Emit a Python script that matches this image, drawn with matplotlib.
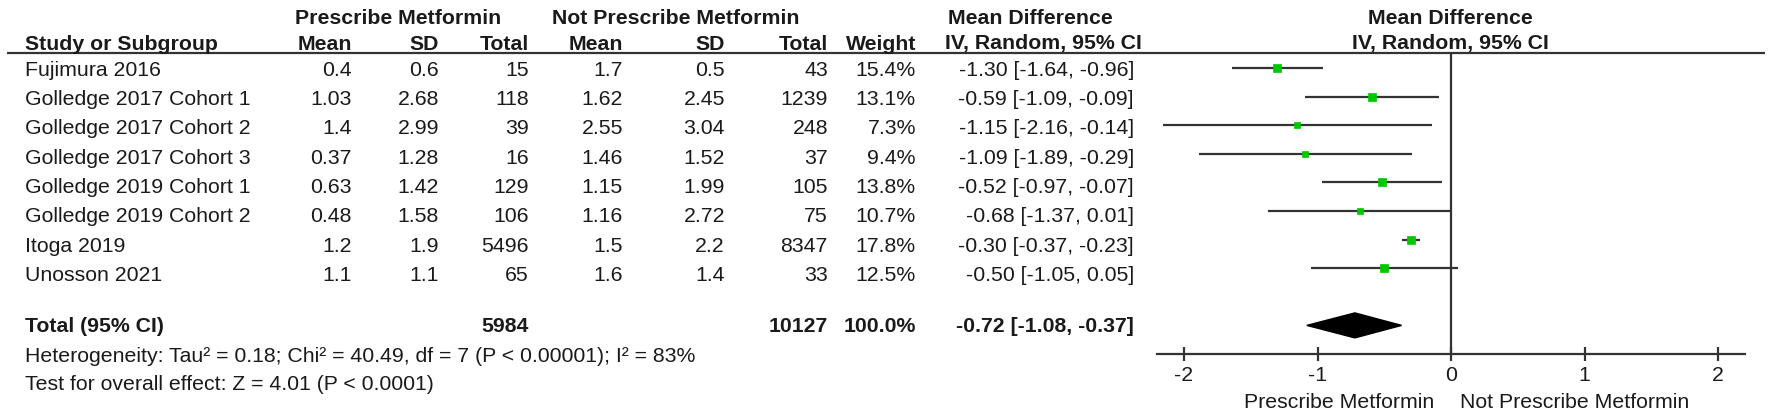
import matplotlib
matplotlib.use("Agg")
import matplotlib.pyplot as plt
from matplotlib.patches import Polygon
import numpy as np

plt.rcParams['font.family'] = ['Liberation Sans', 'DejaVu Sans']

# data
studies = ["Fujimura 2016", "Golledge 2017 Cohort 1", "Golledge 2017 Cohort 2",
           "Golledge 2017 Cohort 3", "Golledge 2019 Cohort 1", "Golledge 2019 Cohort 2",
           "Itoga 2019", "Unosson 2021"]
pm_mean = ["0.4", "1.03", "1.4", "0.37", "0.63", "0.48", "1.2", "1.1"]
pm_sd = ["0.6", "2.68", "2.99", "1.28", "1.42", "1.58", "1.9", "1.1"]
pm_total = [15, 118, 39, 16, 129, 106, 5496, 65]
np_mean = ["1.7", "1.62", "2.55", "1.46", "1.15", "1.16", "1.5", "1.6"]
np_sd = ["0.5", "2.45", "3.04", "1.52", "1.99", "2.72", "2.2", "1.4"]
np_total = [43, 1239, 248, 37, 105, 75, 8347, 33]
weight = [15.4, 13.1, 7.3, 9.4, 13.8, 10.7, 17.8, 12.5]
md = [-1.30, -0.59, -1.15, -1.09, -0.52, -0.68, -0.30, -0.50]
ci_lo = [-1.64, -1.09, -2.16, -1.89, -0.97, -1.37, -0.37, -1.05]
ci_hi = [-0.96, -0.09, -0.14, -0.29, -0.07, 0.01, -0.23, 0.05]
total_md, total_lo, total_hi = -0.72, -1.08, -0.37
total_pm, total_np = 5984, 10127
het_text = "Heterogeneity: Tau\u00b2 = 0.18; Chi\u00b2 = 40.49, df = 7 (P < 0.00001); I\u00b2 = 83%"
effect_text = "Test for overall effect: Z = 4.01 (P < 0.0001)"
xticks = [-2, -1, 0, 1, 2]

W, H = 1772, 418
FS = 15.3
TXT = "#1a1a1a"
LINE = "#333333"

fig = plt.figure(figsize=(W / 100, H / 100), dpi=100)

# table part, pixel coordinates
ax = fig.add_axes([0, 0, 1, 1])
ax.set_xlim(0, W)
ax.set_ylim(H, 0)
ax.axis('off')

def t(x, y, s, ha='right', bold=False, **kw):
    ax.text(x, y, s, ha=ha, va='center', fontsize=FS, color=TXT,
            fontweight='bold' if bold else 'normal', **kw)

# column right edges
c_pm_mean, c_pm_sd, c_pm_tot = 352, 439, 529
c_np_mean, c_np_sd, c_np_tot = 623, 725, 828
c_w, c_ci = 916, 1134
y_h1, y_h2 = 18, 44
row0, step = 70, 29.4

t(398, y_h1, "Prescribe Metformin", ha='center', bold=True)
t(676, y_h1, "Not Prescribe Metformin", ha='center', bold=True)
t(1030, y_h1, "Mean Difference", ha='center', bold=True)
t(1450, y_h1, "Mean Difference", ha='center', bold=True)

t(25, y_h2, "Study or Subgroup", ha='left', bold=True)
for x, s in [(c_pm_mean, "Mean"), (c_pm_sd, "SD"), (c_pm_tot, "Total"),
             (c_np_mean, "Mean"), (c_np_sd, "SD"), (c_np_tot, "Total"), (c_w, "Weight")]:
    t(x, y_h2, s, bold=True)
t(945, y_h2, "IV, Random, 95% CI", ha='left', bold=True)
t(1450, y_h2, "IV, Random, 95% CI", ha='center', bold=True)
ax.plot([7, 1765], [53, 53], color=LINE, lw=1.6, solid_capstyle='butt')

for i, name in enumerate(studies):
    y = row0 + step * i
    t(25, y, name, ha='left')
    t(c_pm_mean, y, pm_mean[i])
    t(c_pm_sd, y, pm_sd[i])
    t(c_pm_tot, y, str(pm_total[i]))
    t(c_np_mean, y, np_mean[i])
    t(c_np_sd, y, np_sd[i])
    t(c_np_tot, y, str(np_total[i]))
    t(c_w, y, f"{weight[i]:.1f}%")
    t(c_ci, y, f"{md[i]:.2f} [{ci_lo[i]:.2f}, {ci_hi[i]:.2f}]")

y_tot = 326
t(25, y_tot, "Total (95% CI)", ha='left', bold=True)
t(c_pm_tot, y_tot, str(total_pm), bold=True)
t(c_np_tot, y_tot, str(total_np), bold=True)
t(c_w, y_tot, f"{sum(weight):.1f}%", bold=True)
t(c_ci, y_tot, f"{total_md:.2f} [{total_lo:.2f}, {total_hi:.2f}]", bold=True)
t(25, 357, het_text, ha='left')
t(25, 384, effect_text, ha='left')

# forest part
x0 = 1451
ppu = 133.5
xl = (-2.2, 2.2)
fx0 = x0 + xl[0] * ppu
fw = (xl[1] - xl[0]) * ppu
top, axis_y = 53, 354
fa = fig.add_axes([fx0 / W, (H - axis_y) / H, fw / W, (axis_y - top) / H])
fa.set_xlim(*xl)
fa.set_ylim((axis_y - 68) / 28.6, (top - 68) / 28.6)
fa.patch.set_alpha(0)
for s in ['top', 'right', 'left']:
    fa.spines[s].set_visible(False)
fa.spines['bottom'].set_color(LINE)
fa.spines['bottom'].set_linewidth(1.6)
fa.set_yticks([])
fa.set_xticks(xticks)
fa.set_xticklabels([str(v) for v in xticks])
fa.tick_params(axis='x', direction='inout', length=9.5, width=1.6, color=LINE,
               labelsize=FS, labelcolor=TXT, pad=4)
fa.axvline(0, color=LINE, lw=1.6)

rows = np.arange(len(studies))
fa.hlines(rows, ci_lo, ci_hi, color=LINE, lw=1.6)
for i in rows:
    side = 2.13 * np.sqrt(weight[i]) / (100 / 72)
    fa.plot(md[i], i, marker='s', ms=side, color='#00c800', mec='#00c800', mew=0.5, zorder=3)

dh = 12.5 / 28.6
fa.add_patch(Polygon([(total_lo, 9), (total_md, 9 - dh), (total_hi, 9), (total_md, 9 + dh)],
                     closed=True, color='black', zorder=3))

t(1434, 403, "Prescribe Metformin", ha='right')
t(1460, 403, "Not Prescribe Metformin", ha='left')

fig.savefig("out.png", dpi=100)
